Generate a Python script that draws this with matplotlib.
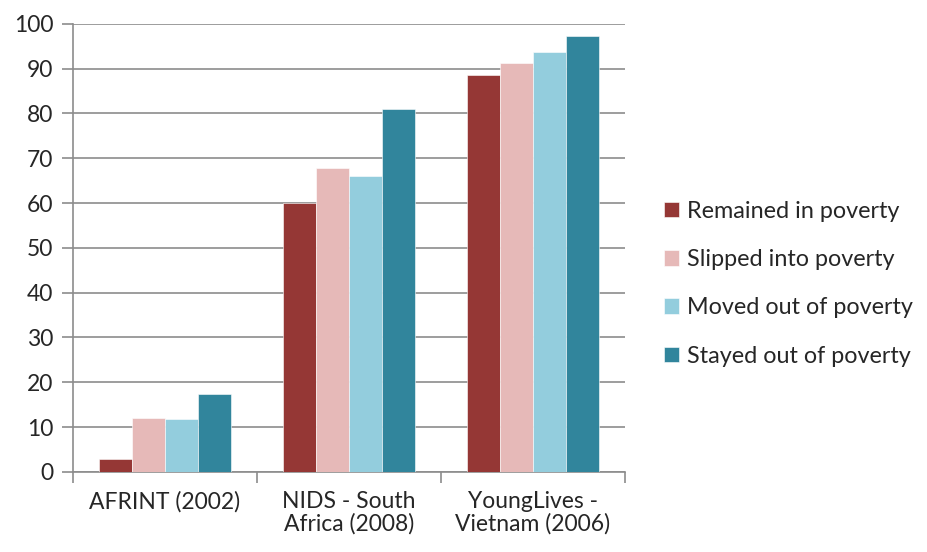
import numpy as np
import matplotlib.pyplot as plt

categories = ["AFRINT (2002)", "NIDS - South\nAfrica (2008)", "YoungLives -\nVietnam (2006)"]
series = ["Remained in poverty", "Slipped into poverty", "Moved out of poverty", "Stayed out of poverty"]
remained = [2.8, 60.0, 88.5]
slipped = [12.0, 67.8, 91.3]
moved = [11.8, 66.1, 93.8]
stayed = [17.4, 81.0, 97.3]
colors = ["#953735", "#E6B9B8", "#93CDDD", "#31859C"]

plt.rcParams['font.family'] = ['Lato', 'DejaVu Sans']


def draw_chart():
    fig = plt.figure(figsize=(9.27, 5.52), dpi=100)
    ax = fig.add_axes([0.0787, 0.145, 0.5955, 0.812])

    x = np.arange(len(categories))
    w = 0.18
    values = [remained, slipped, moved, stayed]
    for i, (vals, name, c) in enumerate(zip(values, series, colors)):
        ax.bar(x + (i - 1.5) * w, vals, w, color=c, label=name, zorder=3,
               edgecolor='white', linewidth=0.4)

    ax.set_xlim(-0.5, 2.5)
    ax.set_ylim(0, 100)
    ax.set_yticks(np.arange(0, 101, 10))
    ax.yaxis.grid(True, color='#8c8c8c', linewidth=1.2, zorder=0)
    ax.set_xticks(x)
    ax.set_xticklabels(categories, fontsize=16.5, color='#262626', linespacing=1.05)
    ax.set_xticks([-0.5, 0.5, 1.5, 2.5], minor=True)
    ax.tick_params(axis='x', which='major', length=0, pad=14)
    ax.tick_params(axis='x', which='minor', length=8, color='#8c8c8c', width=1.2)
    ax.tick_params(axis='y', length=8, color='#8c8c8c', width=1.2, labelsize=16.5,
                   labelcolor='#262626', pad=6)

    for s in ['top', 'right']:
        ax.spines[s].set_visible(False)
    for s in ['left', 'bottom']:
        ax.spines[s].set_color('#8c8c8c')
        ax.spines[s].set_linewidth(1.2)

    leg = ax.legend(loc='center left', bbox_to_anchor=(1.032, 0.42), frameon=False,
                    fontsize=16.8, handlelength=0.65, handleheight=0.65,
                    handletextpad=0.35, labelspacing=1.17)
    for t in leg.get_texts():
        t.set_color('#262626')

    plt.savefig('out.png', dpi=100)


if __name__ == '__main__':
    draw_chart()
